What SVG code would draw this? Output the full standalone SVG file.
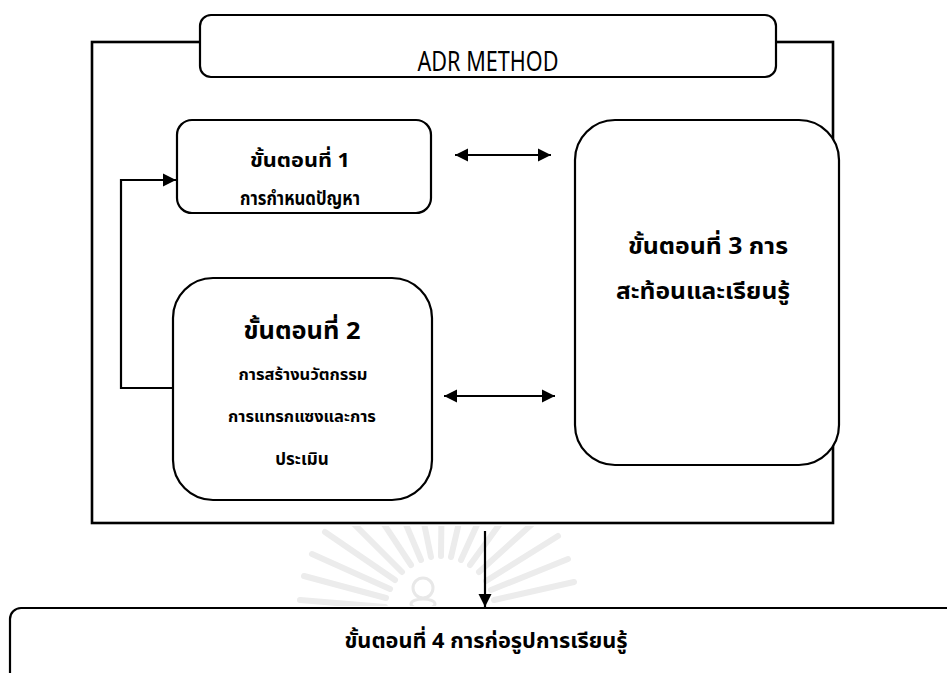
<svg xmlns="http://www.w3.org/2000/svg" width="947" height="673" viewBox="0 0 947 673">
  <style>
    .frame { fill: none; stroke: #000; stroke-width: 2.6; }
    .box { fill: #fff; stroke: #000; stroke-width: 2.2; }
    .link { fill: none; stroke: #000; stroke-width: 2.2; }
    .t { font-family: "Noto Sans Thai", "Leelawadee UI", Tahoma, "Noto Sans", "DejaVu Sans", sans-serif; fill: #000; text-anchor: middle; }
    .b { font-weight: bold; }
    .ray { stroke: #ececec; stroke-width: 6; stroke-linecap: round; fill: none; }
  </style>
  <defs>
    <marker id="arrow" viewBox="0 0 10 10" refX="10" refY="5" markerWidth="6" markerHeight="6" markerUnits="strokeWidth" orient="auto-start-reverse">
      <path d="M0,0 L10,5 L0,10 z" fill="#000"/>
    </marker>
    <clipPath id="wm-clip">
      <rect x="290" y="526" width="320" height="80"/>
    </clipPath>
  </defs>

  <rect width="947" height="673" fill="#fff"/>

  <!-- faint background emblem between the frame and step 4 -->
  <g id="watermark" clip-path="url(#wm-clip)">
    <g transform="translate(440,612)">
      <line class="ray" x1="-55" y1="-5" x2="-140" y2="-12"/>
      <line class="ray" x1="-54" y1="-14" x2="-136" y2="-36"/>
      <line class="ray" x1="-50" y1="-23" x2="-128" y2="-58"/>
      <line class="ray" x1="-45" y1="-32" x2="-115" y2="-80"/>
      <line class="ray" x1="-38" y1="-40" x2="-98" y2="-100"/>
      <line class="ray" x1="-29" y1="-47" x2="-76" y2="-118"/>
      <line class="ray" x1="-19" y1="-52" x2="-52" y2="-130"/>
      <line class="ray" x1="-9" y1="-55" x2="-26" y2="-137"/>
      <line class="ray" x1="1" y1="-56" x2="2" y2="-140"/>
      <line class="ray" x1="11" y1="-55" x2="30" y2="-137"/>
      <line class="ray" x1="21" y1="-52" x2="56" y2="-129"/>
      <line class="ray" x1="30" y1="-47" x2="80" y2="-116"/>
      <line class="ray" x1="39" y1="-40" x2="102" y2="-97"/>
      <line class="ray" x1="46" y1="-31" x2="118" y2="-76"/>
      <line class="ray" x1="51" y1="-22" x2="128" y2="-53"/>
      <line class="ray" x1="54" y1="-12" x2="134" y2="-30"/>
      <circle cx="-17" cy="-24" r="10" fill="none" stroke="#e8e8e8" stroke-width="3"/>
      <ellipse cx="-17" cy="-8" rx="12" ry="5" fill="none" stroke="#e8e8e8" stroke-width="3"/>
    </g>
  </g>

  <!-- outer frame of the ADR method -->
  <g id="adr-frame">
    <rect class="frame" x="92" y="42" width="741" height="481"/>
  </g>

  <g id="adr-title">
    <rect class="box" x="200" y="15" width="576" height="62" rx="11"/>
    <text class="t" x="488" y="71" font-size="27" textLength="141" lengthAdjust="spacingAndGlyphs">ADR METHOD</text>
  </g>

  <g id="step1">
    <rect class="box" x="177" y="120" width="254" height="93" rx="15"/>
    <text class="t b" x="300" y="167" font-size="20" textLength="100" lengthAdjust="spacingAndGlyphs">ขั้นตอนที่ 1</text>
    <text class="t b" x="300" y="205" font-size="18.5" textLength="120" lengthAdjust="spacingAndGlyphs">การกำหนดปัญหา</text>
  </g>

  <g id="step2">
    <rect class="box" x="173" y="278" width="259" height="222" rx="40"/>
    <text class="t b" x="302" y="339" font-size="24" textLength="117" lengthAdjust="spacingAndGlyphs">ขั้นตอนที่ 2</text>
    <text class="t b" x="303" y="380" font-size="16.5">การสร้างนวัตกรรม</text>
    <text class="t b" x="302" y="422" font-size="16.5">การแทรกแซงและการ</text>
    <text class="t b" x="302" y="465" font-size="17">ประเมิน</text>
  </g>

  <g id="step3">
    <rect class="box" x="575" y="120" width="264" height="345" rx="40"/>
    <text class="t b" x="708" y="254" font-size="23" textLength="160" lengthAdjust="spacingAndGlyphs">ขั้นตอนที่ 3 การ</text>
    <text class="t b" x="703" y="299" font-size="23" textLength="174" lengthAdjust="spacingAndGlyphs">สะท้อนและเรียนรู้</text>
  </g>

  <g id="step4">
    <rect class="box" x="10" y="608" width="960" height="90" rx="11"/>
    <text class="t b" x="486" y="648" font-size="21" textLength="283" lengthAdjust="spacingAndGlyphs">ขั้นตอนที่ 4 การก่อรูปการเรียนรู้</text>
  </g>

  <!-- connectors -->
  <g id="connectors">
    <line class="link" x1="455" y1="155" x2="551" y2="155" marker-start="url(#arrow)" marker-end="url(#arrow)"/>
    <line class="link" x1="444" y1="396" x2="555" y2="396" marker-start="url(#arrow)" marker-end="url(#arrow)"/>
    <polyline class="link" points="173,388 121,388 121,180 176,180" marker-end="url(#arrow)"/>
    <line class="link" x1="485" y1="531" x2="485" y2="607" marker-end="url(#arrow)"/>
  </g>
</svg>
